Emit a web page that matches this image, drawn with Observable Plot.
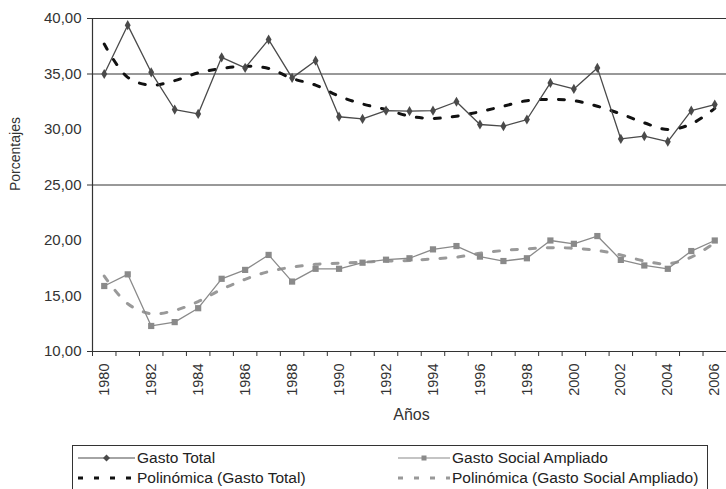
<!DOCTYPE html>
<html><head><meta charset="utf-8">
<script src="https://cdn.jsdelivr.net/npm/d3@7"></script>
<script src="https://cdn.jsdelivr.net/npm/@observablehq/plot@0.6"></script>
<style>
body{margin:0;background:#fff;font-family:"Liberation Sans",Arial,sans-serif;}
#wrap{position:relative;width:726px;height:489px;overflow:hidden;background:#fff;}
#legend{position:absolute;left:72px;top:445px;width:636px;height:60px;border:1px solid #333;box-sizing:border-box;}
.item{position:absolute;font-size:15.5px;color:#222;white-space:nowrap;display:flex;align-items:center;height:18px;}
.item svg{margin-right:2px;}
</style></head><body><div id="wrap"><div id="chart"></div><div id="legend"></div></div>
<script>
const years = [1980,1981,1982,1983,1984,1985,1986,1987,1988,1989,1990,1991,1992,1993,1994,1995,1996,1997,1998,1999,2000,2001,2002,2003,2004,2005,2006];
const gastoTotal = [35.0,39.4,35.15,31.8,31.4,36.5,35.55,38.1,34.65,36.2,31.15,30.95,31.7,31.65,31.7,32.5,30.45,30.3,30.9,34.2,33.65,35.55,29.15,29.4,28.9,31.7,32.25];
const gastoSocial = [15.9,16.95,12.3,12.65,13.9,16.55,17.35,18.7,16.3,17.45,17.45,18.0,18.27,18.4,19.2,19.5,18.55,18.15,18.4,20.0,19.7,20.4,18.25,17.75,17.45,19.05,20.0];
const trendTotal = [37.7,34.7,34.0,34.4,35.1,35.5,35.7,35.5,34.6,34.0,33.0,32.3,31.8,31.2,31.0,31.2,31.6,32.1,32.6,32.7,32.6,32.1,31.4,30.6,30.0,30.5,31.9];
const trendSocial = [16.8,14.3,13.4,13.7,14.5,15.6,16.5,17.2,17.6,17.85,17.95,18.05,18.15,18.2,18.35,18.5,18.85,19.1,19.25,19.35,19.3,19.1,18.7,18.15,17.9,18.5,19.8];
const yTicks = [10,15,20,25,30,35,40];
const yTickMarks = [10,25,35,40];
const gridLines = [25,35,40];
const labelYears = [1980,1982,1984,1986,1988,1990,1992,1994,1996,1998,2000,2002,2004,2006];
const seriesNames = ["Gasto Total","Gasto Social Ampliado","Polinómica (Gasto Total)","Polinómica (Gasto Social Ampliado)"];
const yLabel = "Porcentajes";
const xLabel = "Años";

const rows = years.map((y,i)=>({year:y,total:gastoTotal[i],social:gastoSocial[i],tTotal:trendTotal[i],tSocial:trendSocial[i]}));
const bounds = years.map(y=>y-0.5).concat([years[years.length-1]+0.5]);
const fmt = d=>d.toFixed(2).replace(".",",");
const colTotal="#4a4a4a", colSocial="#8a8a8a";

const plot = Plot.plot({
  width:726, height:440, marginLeft:92, marginRight:0, marginTop:18, marginBottom:89,
  style:{fontFamily:"'Liberation Sans', Arial, sans-serif", fontSize:"14px", color:"#333", background:"white", overflow:"visible"},
  x:{type:"linear", domain:[bounds[0], bounds[bounds.length-1]], label:null},
  y:{domain:[10,40], label:null},
  marks:[
    Plot.ruleY(gridLines,{stroke:"#333",strokeWidth:1}),
    Plot.ruleY([10],{stroke:"#333",strokeWidth:1.2}),
    Plot.ruleX([bounds[0]],{stroke:"#333",strokeWidth:1.2}),
    Plot.axisY({ticks:yTicks, tickSize:0, tickPadding:11, tickFormat:fmt, fontSize:15, style:{letterSpacing:"0.9px"}, label:null}),
    Plot.axisY({ticks:yTickMarks, tickSize:5, tickFormat:()=>"", label:null, stroke:"#333"}),
    Plot.axisX({ticks:bounds, tickSize:5, tickFormat:()=>"", label:null, stroke:"#333"}),
    Plot.axisX({ticks:labelYears, tickSize:0, tickRotate:-90, tickPadding:12, tickFormat:d=>String(d), fontSize:14.5, label:null}),
    Plot.line(rows,{x:"year",y:"tTotal",stroke:"#111",strokeWidth:3,strokeDasharray:"6,12",curve:"catmull-rom"}),
    Plot.line(rows,{x:"year",y:"tSocial",stroke:"#999",strokeWidth:3,strokeDasharray:"6,12",curve:"catmull-rom"}),
    Plot.line(rows,{x:"year",y:"total",stroke:colTotal,strokeWidth:1.3}),
    Plot.dot(rows,{x:"year",y:"total",symbol:"diamond",r:3.1,fill:colTotal,stroke:"none"}),
    Plot.line(rows,{x:"year",y:"social",stroke:colSocial,strokeWidth:1.3}),
    Plot.dot(rows,{x:"year",y:"social",symbol:"square",r:3.5,fill:colSocial,stroke:"none"}),
    Plot.text([yLabel],{frameAnchor:"left",dx:-77,dy:6,rotate:-90,fontSize:14,fill:"#333"}),
    Plot.text([xLabel],{frameAnchor:"bottom",dy:68,dx:2,fontSize:16,fill:"#333"})
  ]
});
document.getElementById("chart").appendChild(plot);

const legend = document.getElementById("legend");
const sampleSvg = (color, dashed, marker, w)=>{
  let s = `<svg width="${w}" height="10" viewBox="0 0 ${w} 10">`;
  if(dashed) s += `<line x1="0" y1="5" x2="${w}" y2="5" stroke="${color}" stroke-width="3" stroke-dasharray="5,11"/>`;
  else s += `<line x1="0" y1="5" x2="${w}" y2="5" stroke="${color}" stroke-width="1.2"/>`;
  const c = w/2;
  if(marker==="diamond") s += `<path d="M${c},1.5L${c+3.5},5L${c},8.5L${c-3.5},5Z" fill="${color}"/>`;
  if(marker==="square") s += `<rect x="${c-2.5}" y="2.5" width="5" height="5" fill="${color}"/>`;
  return s+`</svg>`;
};
const items = [
  {name:seriesNames[0], left:5, top:3, svg:sampleSvg(colTotal,false,"diamond",57)},
  {name:seriesNames[1], left:325, top:3, svg:sampleSvg(colSocial,false,"square",52)},
  {name:seriesNames[2], left:5, top:23, svg:sampleSvg("#111",true,null,57)},
  {name:seriesNames[3], left:325, top:23, svg:sampleSvg("#999",true,null,52)}
];
for(const it of items){
  const d=document.createElement("div");
  d.className="item"; d.style.left=it.left+"px"; d.style.top=it.top+"px";
  d.innerHTML=it.svg+`<span>${it.name}</span>`;
  legend.appendChild(d);
}
</script>
</body></html>
